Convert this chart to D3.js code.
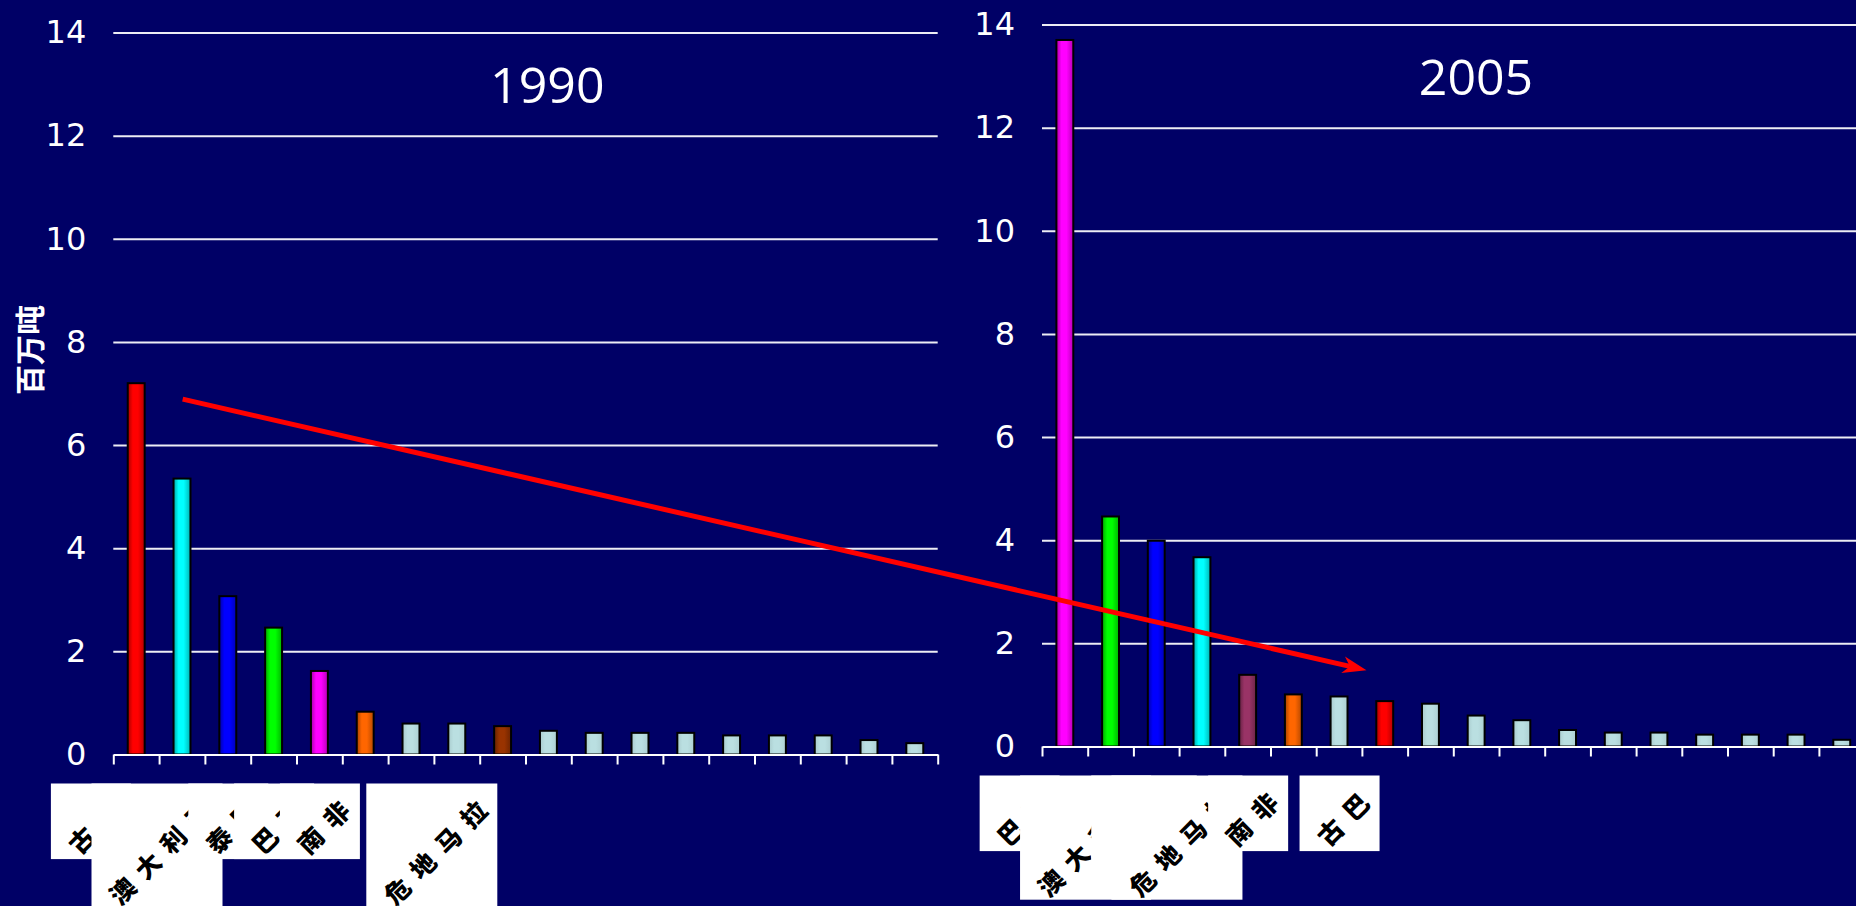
<!DOCTYPE html>
<html><head><meta charset="utf-8">
<script src="https://cdn.jsdelivr.net/npm/d3@7"></script>
<style>html,body{margin:0;padding:0;background:#000066;overflow:hidden}svg{display:block}</style>
</head><body>
<svg id="chart" width="1856" height="906"></svg>
<script>
// ---------- data ----------
const ranks = [1,2,3,4,5,6,7,8,9,10,11,12,13,14,15,16,17,18];
const values1990 = [7.2, 5.35, 3.07, 2.46, 1.62, 0.83, 0.6, 0.6, 0.55, 0.46, 0.42, 0.42, 0.42, 0.37, 0.37, 0.37, 0.28, 0.22];
const colors1990 = ["red","cyan","blue","green","magenta","orange","lightblue","lightblue","brown","lightblue","lightblue","lightblue","lightblue","lightblue","lightblue","lightblue","lightblue","lightblue"];
const values2005 = [13.7, 4.46, 3.99, 3.67, 1.39, 1.01, 0.97, 0.88, 0.83, 0.6, 0.51, 0.32, 0.27, 0.27, 0.23, 0.23, 0.23, 0.13];
const colors2005 = ["magenta","green","blue","cyan","plum","orange","lightblue","red","lightblue","lightblue","lightblue","lightblue","lightblue","lightblue","lightblue","lightblue","lightblue","lightblue"];
const yTicks = [0,2,4,6,8,10,12,14];
const titles = ["1990","2005"];
const yAxisTitle = "百万吨";
const labels1990 = ["古巴","澳大利亚","泰国","巴西","南非","危地马拉"];
const labelSlots1990 = [-1,1,2,3,4,7];
const labels2005 = ["巴西","澳大利亚","泰国","危地马拉","南非","古巴"];
const labelSlots2005 = [-1,1,2,3,4,6];
// arrow annotation: [chart index, position in category units, value]
const arrowFrom = [0, 1.515, 6.89];
const arrowTo = [1, 7.1, 1.48];

// ---------- styles / layout ----------
const palette = {red:"#FF0000", cyan:"#00FFFF", blue:"#0000FF", green:"#00FF00", magenta:"#FF00FF",
  orange:"#FF6600", lightblue:"#BADFE1", brown:"#993300", plum:"#993366"};
const labelBoxUnits = [[2,4,2,2,2,4],[2,4,3,4,2,2]];
const layout = [
  {x0:113.3, x1:937.7, yTop:32.5, yBase:754.5},
  {x0:1042, x1:1864.6, yTop:24.5, yBase:746.5}
];

const svg = d3.select("#chart");
svg.append("rect").attr("width",1856).attr("height",906).attr("fill","#000066");
const defs = svg.append("defs");
Object.entries(palette).forEach(([k,c]) => {
  const g = defs.append("linearGradient").attr("id","g-"+k).attr("x1","0").attr("x2","1").attr("y1","0").attr("y2","0");
  const dk = k === "lightblue" ? 0.25 : 1.2;
  g.append("stop").attr("offset","0").attr("stop-color", d3.color(c).darker(dk));
  g.append("stop").attr("offset","0.3").attr("stop-color", c);
  g.append("stop").attr("offset","0.6").attr("stop-color", c);
  g.append("stop").attr("offset","1").attr("stop-color", d3.color(c).darker(dk*0.8));
});

const datasets = [
  {values: values1990, colors: colors1990, labels: labels1990, slots: labelSlots1990},
  {values: values2005, colors: colors2005, labels: labels2005, slots: labelSlots2005}
];

const scales = [];
datasets.forEach((ds, ci) => {
  const L = layout[ci];
  const y = d3.scaleLinear().domain([0,14]).range([L.yBase, L.yTop]);
  const xb = d3.scaleBand().domain(ranks).range([L.x0, L.x1]).paddingInner(0.63).paddingOuter(0.315);
  const xl = d3.scaleLinear().domain([0, ranks.length]).range([L.x0, L.x1]);
  scales.push({x: xl, y});
  const g = svg.append("g");

  // y axis with gridlines
  const ya = d3.axisLeft(y).tickValues(yTicks).tickSize(-(L.x1 - L.x0)).tickPadding(27).tickFormat(d3.format("d"));
  const yg = g.append("g").attr("transform", `translate(${L.x0},0)`).call(ya);
  yg.select(".domain").remove();
  yg.selectAll(".tick line").attr("stroke","#ECECF4").attr("stroke-width",2).filter(d => d === 0).remove();
  yg.selectAll(".tick text").attr("fill","#fff").attr("font-family","'DejaVu Sans', Verdana, sans-serif").attr("font-size",32);

  // bars
  g.selectAll("rect.bar").data(ds.values).join("rect").attr("class","bar")
    .attr("x",(d,i) => xb(ranks[i])).attr("width", xb.bandwidth())
    .attr("y", d => y(d)).attr("height", d => y(0) - y(d))
    .attr("fill",(d,i) => `url(#g-${ds.colors[i]})`)
    .attr("stroke","#000").attr("stroke-width",2);

  // x axis
  const xa = d3.axisBottom(xl).tickValues(d3.range(0, ranks.length+1)).tickFormat("").tickSize(10).tickSizeOuter(0);
  const xg = g.append("g").attr("transform", `translate(0,${L.yBase})`).call(xa);
  xg.select(".domain").attr("stroke","#fff").attr("stroke-width",2);
  xg.selectAll(".tick line").attr("stroke","#fff").attr("stroke-width",2);

  // title
  g.append("text").attr("x", L.x0 + 434).attr("y", L.yTop + 70).attr("text-anchor","middle")
    .attr("fill","#fff").attr("font-family","'Open Sans', sans-serif").attr("font-size",50).text(titles[ci]);

  // category labels (pasted white boxes with rotated text)
  const step = (L.x1 - L.x0) / ranks.length;
  const top = L.yBase + 29;
  ds.labels.forEach((name, li) => {
    const n = labelBoxUnits[ci][li];
    const w = 29 + 25.5 * n, h = 27 + 24.3 * n;
    const right = L.x0 + (ds.slots[li] + 0.5) * step + 40.5;
    const lg = svg.append("g").attr("transform", `translate(${right},${top})`);
    const cid = `clip-${ci}-${li}`;
    defs.append("clipPath").attr("id", cid).append("rect").attr("x",-w).attr("y",0).attr("width",w).attr("height",h);
    lg.append("rect").attr("x",-w).attr("y",0).attr("width",w).attr("height",h).attr("fill","#fff");
    lg.append("g").attr("clip-path",`url(#${cid})`)
      .append("text")
      .attr("transform","translate(-8,13.5) rotate(-45)")
      .attr("text-anchor","end").attr("dominant-baseline","central")
      .attr("font-family","'Noto Sans CJK SC', sans-serif").attr("font-weight",900)
      .attr("font-size",25).attr("letter-spacing","11px").attr("fill","#000").text(name);
  });
});

// y axis title
svg.append("text").attr("transform","translate(28,350) rotate(-90)").attr("text-anchor","middle")
  .attr("dominant-baseline","central").attr("fill","#fff").attr("font-family","'Noto Sans CJK SC', sans-serif")
  .attr("font-weight",700).attr("font-size",30).text(yAxisTitle);

// red arrow
const p1 = [scales[arrowFrom[0]].x(arrowFrom[1]), scales[arrowFrom[0]].y(arrowFrom[2])];
const p2 = [scales[arrowTo[0]].x(arrowTo[1]), scales[arrowTo[0]].y(arrowTo[2])];
const ang = Math.atan2(p2[1]-p1[1], p2[0]-p1[0]);
const hl = 21, hw = 8.5;
const ux = Math.cos(ang), uy = Math.sin(ang);
const base = [p2[0]-ux*hl, p2[1]-uy*hl];
svg.append("line").attr("x1",p1[0]).attr("y1",p1[1]).attr("x2",base[0]+ux*4).attr("y2",base[1]+uy*4)
  .attr("stroke","#FF0000").attr("stroke-width",5);
svg.append("path").attr("d", d3.line()([
  p2, [base[0]-uy*hw - ux*3, base[1]+ux*hw - uy*3], [base[0]+ux*4, base[1]+uy*4], [base[0]+uy*hw - ux*3, base[1]-ux*hw - uy*3]
]) + "Z").attr("fill","#FF0000");
</script>
</body></html>
